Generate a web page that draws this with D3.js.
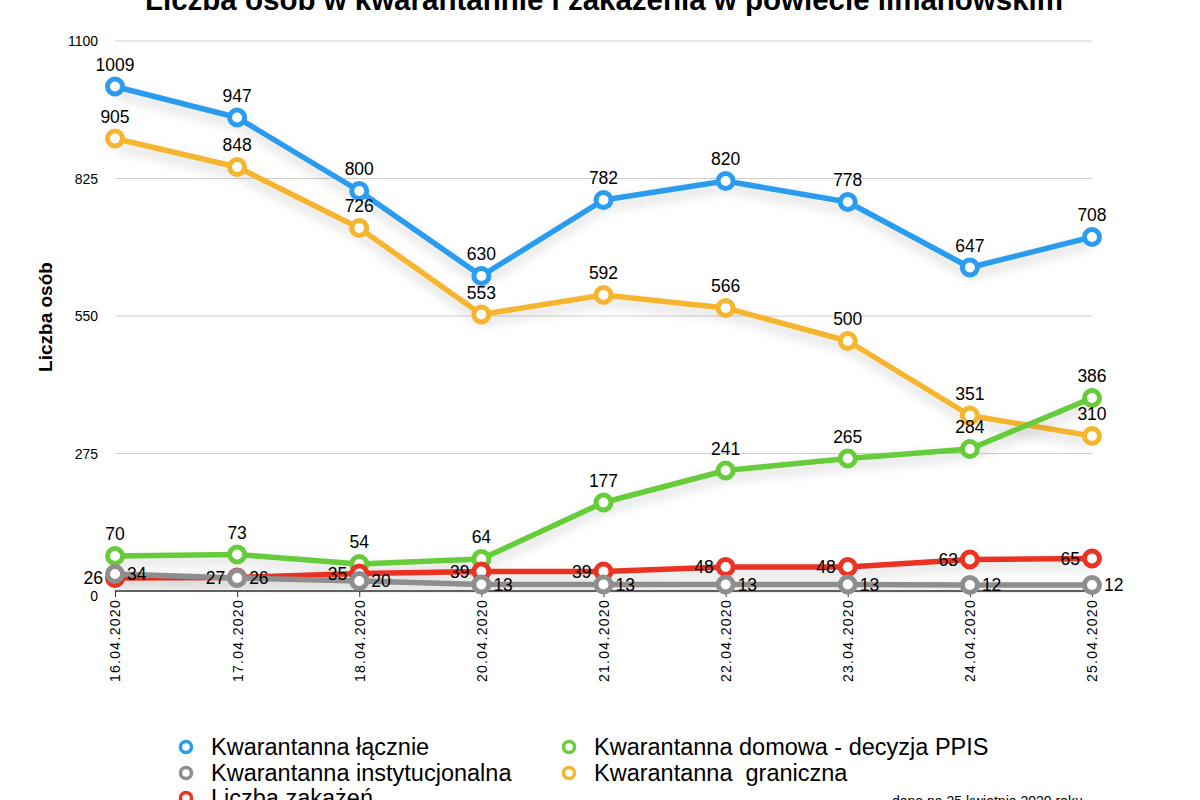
<!DOCTYPE html>
<html><head><meta charset="utf-8">
<script src="https://cdn.jsdelivr.net/npm/d3@7"></script>
<style>body{margin:0;background:#fff}svg{display:block;font-family:"Liberation Sans",Arial,sans-serif}text{white-space:pre}</style>
</head><body>
<svg id="c" width="1200" height="800"></svg>
<script>
const dates = ["16.04.2020","17.04.2020","18.04.2020","20.04.2020","21.04.2020","22.04.2020","23.04.2020","24.04.2020","25.04.2020"];
const lacznie = [1009,947,800,630,782,820,778,647,708];
const graniczna = [905,848,726,553,592,566,500,351,310];
const domowa = [70,73,54,64,177,241,265,284,386];
const zakazenia = [26,27,35,39,39,48,48,63,65];
const instytucjonalna = [34,26,20,13,13,13,13,12,12];
const yTicks = [0,275,550,825,1100];

const series = [
  {name:"Kwarantanna łącznie", values:lacznie, color:"#2b9cf0", pos:"above"},
  {name:"Kwarantanna  graniczna", values:graniczna, color:"#f6b52e", pos:"above"},
  {name:"Kwarantanna domowa - decyzja PPIS", values:domowa, color:"#66cc3a", pos:"above"},
  {name:"Liczba zakażeń", values:zakazenia, color:"#ea3323", pos:"left"},
  {name:"Kwarantanna instytucjonalna", values:instytucjonalna, color:"#8e8e8e", pos:"right"}
];

const svg = d3.select("#c");
const x = d3.scalePoint().domain(dates).range([115,1092]);
const y = d3.scaleLinear().domain([0,1100]).range([591,41]);

const defs = svg.append("defs");
const f = defs.append("filter").attr("id","sh").attr("x","-10%").attr("y","-30%").attr("width","120%").attr("height","200%");
f.append("feDropShadow").attr("dx",0).attr("dy",6).attr("stdDeviation",6).attr("flood-color","#000").attr("flood-opacity",0.18);

// title
svg.append("text").attr("x",604).attr("y",10).attr("text-anchor","middle")
  .attr("font-size",29.5).attr("font-weight","bold").attr("fill","#000")
  .text("Liczba osób w kwarantannie i zakażenia w powiecie limanowskim");

// grid
const gridTicks = yTicks.filter(d=>d>0);
svg.append("g").selectAll("line").data(gridTicks).join("line")
  .attr("x1",115).attr("x2",1092).attr("y1",d=>y(d)).attr("y2",d=>y(d))
  .attr("stroke","#d0d0d0").attr("stroke-width",1);

// y axis labels
svg.append("g").selectAll("text").data(gridTicks).join("text")
  .attr("x",98).attr("y",d=>y(d)+5).attr("text-anchor","end")
  .attr("font-size",14).attr("fill","#000").text(d=>d);
svg.append("text").attr("x",98).attr("y",y(0)+10).attr("text-anchor","end")
  .attr("font-size",14).text("0");

svg.append("text").attr("transform","translate(52,317) rotate(-90)")
  .attr("text-anchor","middle").attr("font-size",19).attr("font-weight","bold").text("Liczba osób");

// x axis
const xa = svg.append("g").attr("transform",`translate(0,${y(0)})`)
  .call(d3.axisBottom(x).tickSize(6).tickSizeOuter(0).tickPadding(8));
xa.select(".domain").attr("stroke","#333").attr("stroke-width",1.5).attr("d","M115,0H1092");
xa.selectAll(".tick line").attr("stroke","#333");
xa.selectAll(".tick text").attr("font-family","'Liberation Sans',Arial,sans-serif").attr("font-size",14).attr("fill","#000")
  .attr("letter-spacing","1.3px")
  .attr("transform","rotate(-90)").attr("text-anchor","end").attr("dy","0.35em").attr("x",null).attr("y",0)
  .attr("dx",-8);

const line = d3.line().x((d,i)=>x(dates[i])).y(d=>y(d));
const g = svg.append("g");
series.forEach(s=>{
  const sg = g.append("g");
  sg.append("path").attr("d",line(s.values)).attr("fill","none").attr("stroke",s.color)
    .attr("stroke-width",5.5).attr("stroke-linejoin","round").attr("filter","url(#sh)");
  sg.selectAll("circle").data(s.values).join("circle")
    .attr("cx",(d,i)=>x(dates[i])).attr("cy",d=>y(d)).attr("r",7.5)
    .attr("fill","#fff").attr("stroke",s.color).attr("stroke-width",5);
});
// labels
series.forEach(s=>{
  g.append("g").selectAll("text").data(s.values).join("text")
    .attr("x",(d,i)=>x(dates[i]) + (s.pos==="left"?-12:s.pos==="right"?12:0))
    .attr("y",d=>y(d) + (s.pos==="above"?-16:6))
    .attr("text-anchor",s.pos==="left"?"end":s.pos==="right"?"start":"middle")
    .attr("font-size",17.5).attr("fill","#000").text(d=>d);
});

// legend
const legendItems = [
  {s:series[0], cx:186, y:747},
  {s:series[4], cx:186, y:773},
  {s:series[3], cx:186, y:798},
  {s:series[2], cx:569, y:747},
  {s:series[1], cx:569, y:773}
];
const lg = svg.append("g");
legendItems.forEach(it=>{
  lg.append("circle").attr("cx",it.cx).attr("cy",it.y).attr("r",5.5).attr("fill","#fff")
    .attr("stroke",it.s.color).attr("stroke-width",3.5);
  lg.append("text").attr("x",it.cx+25).attr("y",it.y+8).attr("font-size",23.5).attr("fill","#000").text(it.s.name);
});
svg.append("text").attr("x",892).attr("y",806).attr("font-size",14).attr("fill","#000").text("dane na 25 kwietnia 2020 roku");
</script>
</body></html>
